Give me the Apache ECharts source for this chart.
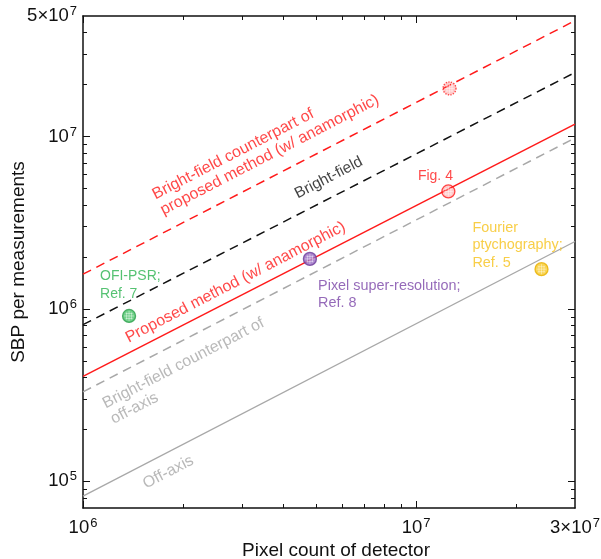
<!DOCTYPE html>
<html>
<head>
<meta charset="utf-8">
<script src="https://cdn.jsdelivr.net/npm/echarts@6/dist/echarts.min.js"></script>
<style>
  html, body { margin: 0; padding: 0; background: #fff; }
  #chart { width: 601px; height: 559px; }
</style>
</head>
<body>
<div id="chart"></div>
<script>
// axis ranges
const xRange = [1e6, 3e7];
const yRange = [7e4, 5e7];

// ticks and tick labels
const xMajor = [1e6, 1e7];
const xMinor = [2e6, 3e6, 4e6, 5e6, 6e6, 7e6, 8e6, 9e6, 2e7];
const xLabels = [1e6, 1e7, 3e7];
const yMajor = [1e5, 1e6, 1e7];
const yMinor = [8e4, 9e4, 2e5, 3e5, 4e5, 5e5, 6e5, 7e5, 8e5, 9e5,
                2e6, 3e6, 4e6, 5e6, 6e6, 7e6, 8e6, 9e6, 2e7, 3e7, 4e7];
const yLabels = [1e5, 1e6, 1e7, 5e7];

// lines (end points)
const brightFieldProposed = [[1e6, 1.59e6], [3e7, 4.7e7]];
const brightField = [[1e6, 8.1e5], [3e7, 2.35e7]];
const proposed = [[1e6, 4.06e5], [3e7, 1.18e7]];
const brightFieldOffAxis = [[1e6, 3.3e5], [3e7, 9.8e6]];
const offAxis = [[1e6, 8.2e4], [3e7, 2.46e6]];

// measured points
const ptBrightFieldProposed = [1.26e7, 1.9e7];
const ptFig4 = [1.25e7, 4.8e6];
const ptPixelSR = [4.8e6, 1.95e6];
const ptOFI = [1.375e6, 9.1e5];
const ptFourier = [2.38e7, 1.7e6];

// annotation texts and their anchors (data coords)
const noteTexts = [
  'Bright-field counterpart of\nproposed method (w/ anamorphic)',
  'Bright-field',
  'Proposed method (w/ anamorphic)',
  'Bright-field counterpart of\noff-axis',
  'Off-axis',
  'Fig. 4',
  'OFI-PSR;\nRef. 7',
  'Pixel super-resolution;\nRef. 8',
  'Fourier\nptychography;\nRef. 5'
];
const noteAnchors = [
  [1.77e6, 3.33e6],
  [4.48e6, 4.14e6],
  [1.39e6, 6.05e5],
  [1.255e6, 2.04e5],
  [1.567e6, 8.6e4],
  [1.143e7, 5.91e6],
  [1.125e6, 1.74e6],
  [5.08e6, 1.53e6],
  [1.476e7, 3.33e6]
];

const FONT = "'Liberation Sans', Arial, Helvetica, sans-serif";
const RED = '#ff1a1a', GRAY = '#a8a8a8', GREEN = '#2bb34f', PURPLE = '#7a45a8', GOLD = '#f6c21a';
const ANG = 27.4;

function tickFmt(v) {
  const e = Math.floor(Math.log10(v) + 1e-9);
  const m = Math.round(v / Math.pow(10, e));
  return (m === 1 ? '{b|10}' : '{b|' + m + '×10}') + '{s|' + e + '}';
}
const richTick = {
  b: { fontSize: 18.5, fontFamily: FONT, color: '#111', lineHeight: 22 },
  s: { fontSize: 13, fontFamily: FONT, color: '#111', verticalAlign: 'top', lineHeight: 12, padding: [0, 0, 0, 1] }
};

function makeAxis(dim, pos, ticks, len, opts) {
  const range = dim === 'x' ? xRange : yRange;
  return Object.assign({
    type: 'log', logBase: 10, position: pos, min: range[0], max: range[1],
    splitLine: { show: false },
    axisLine: { show: false, onZero: false, lineStyle: { color: '#111', width: 1.5 } },
    axisTick: { show: true, inside: true, length: len, customValues: ticks, lineStyle: { color: '#111', width: 1 } },
    axisLabel: { show: false }
  }, opts || {});
}

const chart = echarts.init(document.getElementById('chart'));

const xAxes = [
  makeAxis('x', 'bottom', xMajor, 7, {
    axisLine: { show: true, onZero: false, lineStyle: { color: '#111', width: 1.5 } },
    axisLabel: { show: true, customValues: xLabels, formatter: tickFmt, rich: richTick, margin: 9 },
    name: 'Pixel count of detector', nameLocation: 'middle', nameGap: 33, nameMoveOverlap: false,
    nameTextStyle: { fontSize: 19, fontFamily: FONT, color: '#111', padding: [0, 0, 0, 14] }
  }),
  makeAxis('x', 'bottom', xMinor, 4),
  makeAxis('x', 'top', xMajor, 7, { axisLine: { show: true, onZero: false, lineStyle: { color: '#111', width: 1.5 } } }),
  makeAxis('x', 'top', xMinor, 4)
];
const yAxes = [
  makeAxis('y', 'left', yMajor, 7, {
    axisLine: { show: true, onZero: false, lineStyle: { color: '#111', width: 1.5 } },
    axisLabel: { show: true, customValues: yLabels, formatter: tickFmt, rich: richTick, margin: 6 },
    name: 'SBP per measurements', nameLocation: 'middle', nameGap: 55, nameMoveOverlap: false,
    nameTextStyle: { fontSize: 19, fontFamily: FONT, color: '#111' }
  }),
  makeAxis('y', 'left', yMinor, 4),
  makeAxis('y', 'right', yMajor, 7, { axisLine: { show: true, onZero: false, lineStyle: { color: '#111', width: 1.5 } } }),
  makeAxis('y', 'right', yMinor, 4)
];

function lineSeries(data, color, width, dash) {
  return {
    type: 'line', data: data, symbol: 'none', silent: true,
    lineStyle: { color: color, width: width, type: dash || 'solid' },
    z: 2
  };
}

const crossPath = 'path://M5,0 L5,10 M0,5 L10,5 M1.5,2.5 L8.5,2.5 M1.5,7.5 L8.5,7.5 M2.5,1.5 L2.5,8.5 M7.5,1.5 L7.5,8.5';

function pointSeries(pt, fill, border, cross, dotted) {
  return [
    {
      type: 'scatter', data: [pt], symbol: 'circle', symbolSize: 13, silent: true, z: 5,
      itemStyle: { color: fill, borderColor: border, borderWidth: 1.3, borderType: dotted ? 'dotted' : 'solid' }
    },
    {
      type: 'scatter', data: [pt], symbol: crossPath, symbolSize: 10, silent: true, z: 6,
      itemStyle: { color: 'none', borderColor: cross, borderWidth: 0.7, opacity: 0.8 }
    }
  ];
}

const noteStyles = [
  { color: RED, rotate: ANG, fontSize: 16, verticalAlign: 'bottom' },
  { color: '#111', rotate: ANG, fontSize: 15.5, verticalAlign: 'bottom' },
  { color: RED, rotate: ANG, fontSize: 16, verticalAlign: 'bottom' },
  { color: GRAY, rotate: ANG, fontSize: 16, verticalAlign: 'bottom' },
  { color: GRAY, rotate: ANG, fontSize: 16, verticalAlign: 'bottom' },
  { color: RED, fontSize: 14, align: 'center', verticalAlign: 'middle' },
  { color: GREEN, fontSize: 14, verticalAlign: 'top' },
  { color: PURPLE, fontSize: 14.4, verticalAlign: 'top' },
  { color: GOLD, fontSize: 14.4, verticalAlign: 'top' }
];

const notes = {
  type: 'scatter', symbolSize: 0, silent: true, z: 10,
  data: noteAnchors.map((a, i) => ({
    value: a,
    label: Object.assign({
      show: true, position: [0, 0], formatter: noteTexts[i], align: 'left',
      fontFamily: FONT, lineHeight: 17.5
    }, noteStyles[i])
  }))
};

chart.setOption({
  animation: false,
  backgroundColor: '#fff',
  grid: { left: 83, right: 26, top: 16, bottom: 51, containLabel: false, outerBoundsMode: 'none' },
  xAxis: xAxes,
  yAxis: yAxes,
  series: [
    lineSeries(brightFieldProposed, RED, 1.5, [9, 6]),
    lineSeries(brightField, '#111', 1.5, [9, 6]),
    lineSeries(proposed, RED, 1.5),
    lineSeries(brightFieldOffAxis, GRAY, 1.5, [9, 6]),
    lineSeries(offAxis, GRAY, 1.3),
    ...pointSeries(ptBrightFieldProposed, 'rgba(255,60,60,0.35)', RED, 'rgba(255,255,255,0.8)', true),
    ...pointSeries(ptFig4, 'rgba(255,60,60,0.35)', RED, 'rgba(255,255,255,0.8)'),
    ...pointSeries(ptPixelSR, '#9668c2', '#6a3a98', 'rgba(255,255,255,0.75)'),
    ...pointSeries(ptOFI, '#4cc46b', '#2a9e4a', 'rgba(255,255,255,0.75)'),
    ...pointSeries(ptFourier, '#f8cb2a', '#e8b000', 'rgba(255,255,255,0.7)'),
    notes
  ]
});
</script>
</body>
</html>
